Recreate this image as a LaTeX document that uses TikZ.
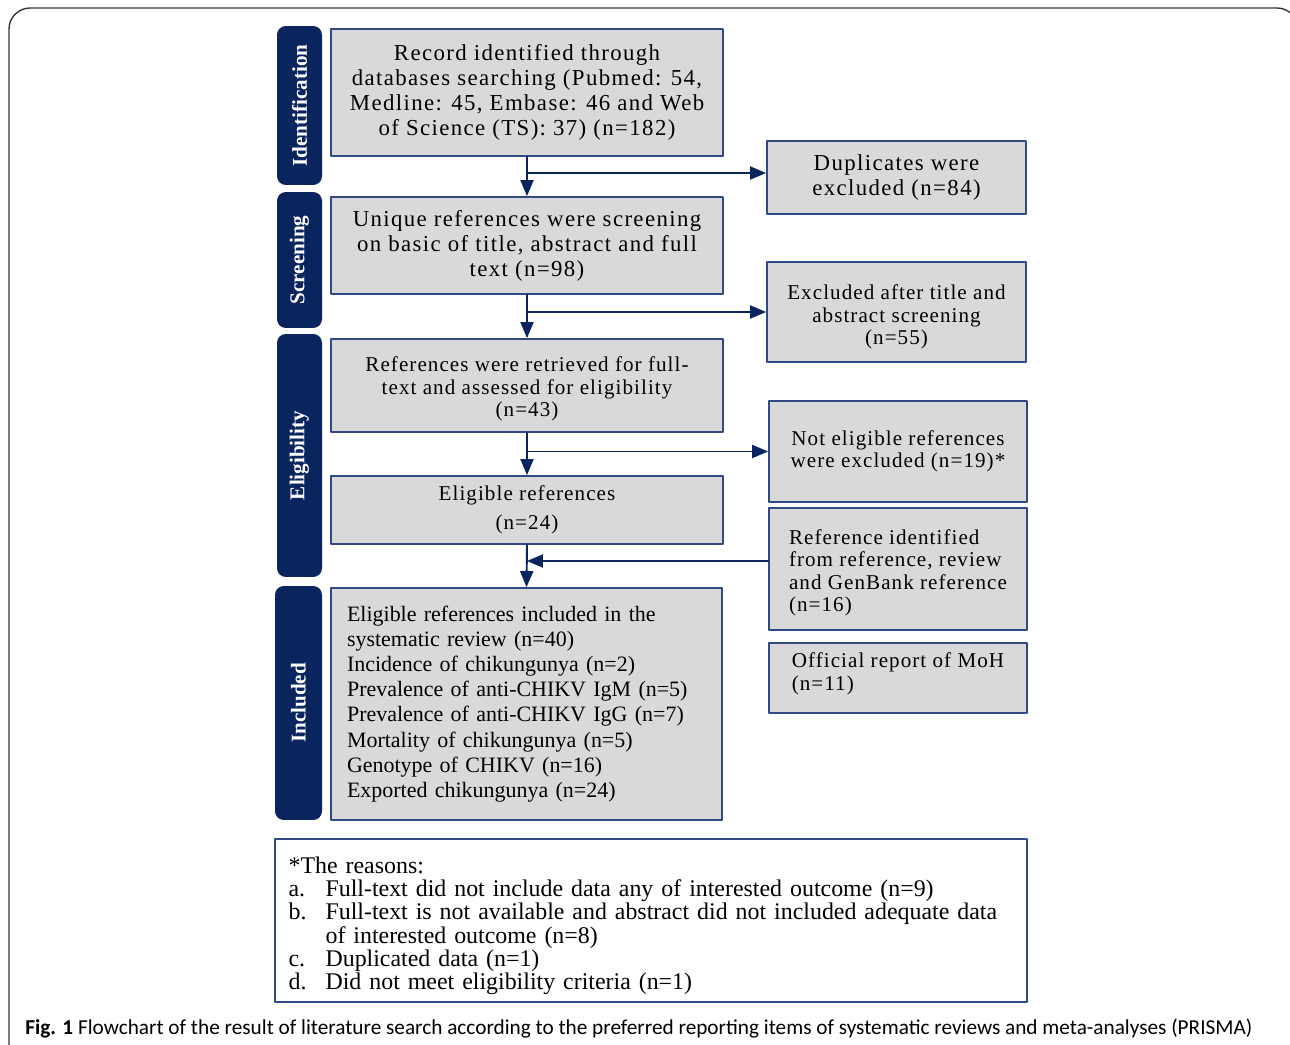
\documentclass[tikz,border=0pt]{standalone}
\usepackage{fontspec}
\usepackage{tikz}
\setmainfont{Liberation Serif}
\newfontfamily\wideserif[LetterSpace=6]{Liberation Serif}
\newfontfamily\midserif[LetterSpace=5]{Liberation Serif}
\newfontfamily\capfont{Carlito}
\usetikzlibrary{calc}
\usetikzlibrary{arrows}
\definecolor{qqqqtt}{rgb}{0.04,0.14,0.37}
\definecolor{ttwwcc}{rgb}{0.19,0.29,0.52}
\definecolor{zzzzzz}{rgb}{0.85,0.85,0.85}
\definecolor{wwwwww}{rgb}{0.22,0.22,0.22}
\tikzset{
  stage/.style={fill=qqqqtt,rounded corners=5pt,rotate=90,text=white,font=\bfseries\fontsize{12}{14}\selectfont,minimum height=0.9cm,inner sep=0pt},
  bigbox/.style={draw=ttwwcc,line width=1.1pt,fill=zzzzzz,align=center,inner sep=0pt,font=\wideserif\fontsize{13}{14.2}\selectfont},
  smallbox/.style={bigbox,font=\midserif\fontsize{12}{12.8}\selectfont},
  flow/.style={->,line width=1.1pt,color=qqqqtt}
}
\begin{document}
\begin{tikzpicture}[line cap=round,line join=round,>=triangle 45,x=0.02cm,y=-0.02cm]
  \clip (0,0) rectangle (1290,1044);
  \draw[line width=0.8pt,color=wwwwww,rounded corners=12pt] (9,8) rectangle (1298,1070);
  % stage labels
  \node[stage,minimum width=3.18cm] (idt) at (299.5,105.5) {Identification};
  \node[stage,minimum width=2.72cm] (scr) at (299.5,260) {Screening};
  \node[stage,minimum width=4.86cm] (elg) at (299.5,455.5) {Eligibility};
  \node[stage,minimum width=4.68cm,minimum height=0.94cm] (inc) at (298.5,703) {Included};
  % main column
  \node[bigbox,minimum width=7.84cm,minimum height=2.54cm] (rec) at (527,92.5) {Record identified through\\databases searching (Pubmed: 54,\\Medline: 45, Embase: 46 and Web\\of Science (TS): 37) (n=182)};
  \node[bigbox,minimum width=7.84cm,minimum height=1.94cm] (unq) at (527,245.5) {Unique references were screening\\on basic of title, abstract and full\\text (n=98)};
  \node[smallbox,minimum width=7.84cm,minimum height=1.86cm] (ret) at (527,385.5) {\rule{0pt}{12.5pt}References were retrieved for full-\\text and assessed for eligibility\\(n=43)};
  \node[smallbox,minimum width=7.84cm,minimum height=1.36cm] (elr) at (527,510) {Eligible references\\[4pt](n=24)};
  \node[smallbox,font=\fontsize{12.5}{14.3}\selectfont,align=left,text width=7.18cm,inner xsep=0.32cm,minimum height=4.64cm] (inr) at (526.5,704) {Eligible references included in the\\systematic review (n=40)\\Incidence of chikungunya (n=2)\\Prevalence of anti-CHIKV IgM (n=5)\\Prevalence of anti-CHIKV IgG (n=7)\\Mortality of chikungunya (n=5)\\Genotype of CHIKV (n=16)\\Exported chikungunya (n=24)};
  % side column
  \node[bigbox,minimum width=5.18cm,minimum height=1.46cm] (dup) at (896.5,177.5) {Duplicates were\\excluded (n=84)};
  \node[smallbox,minimum width=5.18cm,minimum height=2cm] (exc) at (896.5,312) {\rule{0pt}{14pt}Excluded after title and\\abstract screening\\(n=55)};
  \node[smallbox,minimum width=5.16cm,minimum height=2.02cm] (noe) at (898,451.5) {Not eligible references\\were excluded (n=19)*};
  \node[smallbox,align=left,minimum width=5.16cm,minimum height=2.44cm] (oth) at (898,569) {\rule{0pt}{13pt}Reference identified\\from reference, review\\and GenBank reference\\(n=16)};
  \node[smallbox,align=left,minimum width=5.16cm,minimum height=1.4cm] (moh) at (898,678) {Official report of MoH\\(n=11)\\[-5.4pt]};
  % reasons
  \node[draw=ttwwcc,line width=1.1pt,fill=white,align=left,text width=14.5cm,inner xsep=0.27cm,minimum height=3.22cm,font=\fontsize{13.6}{12.9}\selectfont] (rsn) at (651,920.5) {%
    \renewcommand{\arraystretch}{0.96}%
    \begin{tabular}{@{}p{0.74cm}@{}l@{}}
      \multicolumn{2}{@{}l}{\rule{0pt}{16pt}*The reasons:}\\
      a. & Full-text did not include data any of interested outcome (n=9)\\
      b. & Full-text is not available and abstract did not included adequate data\\
         & of interested outcome (n=8)\\
      c. & Duplicated data (n=1)\\
      d. & Did not meet eligibility criteria (n=1)
    \end{tabular}};
  % connectors
  \coordinate (d1) at ($(dup.west)+(0,-4.5)$);
  \coordinate (o1) at ($(oth.west)+(0,-8)$);
  \draw[flow] (rec.south) -- (unq.north);
  \draw[flow] (rec.south |- d1) -- (d1);
  \draw[flow] (unq.south) -- (ret.north);
  \draw[flow] (unq.south |- exc.west) -- (exc.west);
  \draw[flow] (ret.south) -- (elr.north);
  \draw[flow] (ret.south |- noe.west) -- (noe.west);
  \draw[flow] (elr.south) -- (inr.north);
  \draw[flow] (o1) -- (elr.south |- o1);
  % caption
  \node[anchor=base west,inner sep=0pt,font=\capfont\fontsize{12.1}{14}\selectfont] (cap) at (25,1034) {\textbf{Fig. 1} Flowchart of the result of literature search according to the preferred reporting items of systematic reviews and meta-analyses (PRISMA)};
\end{tikzpicture}
\end{document}
